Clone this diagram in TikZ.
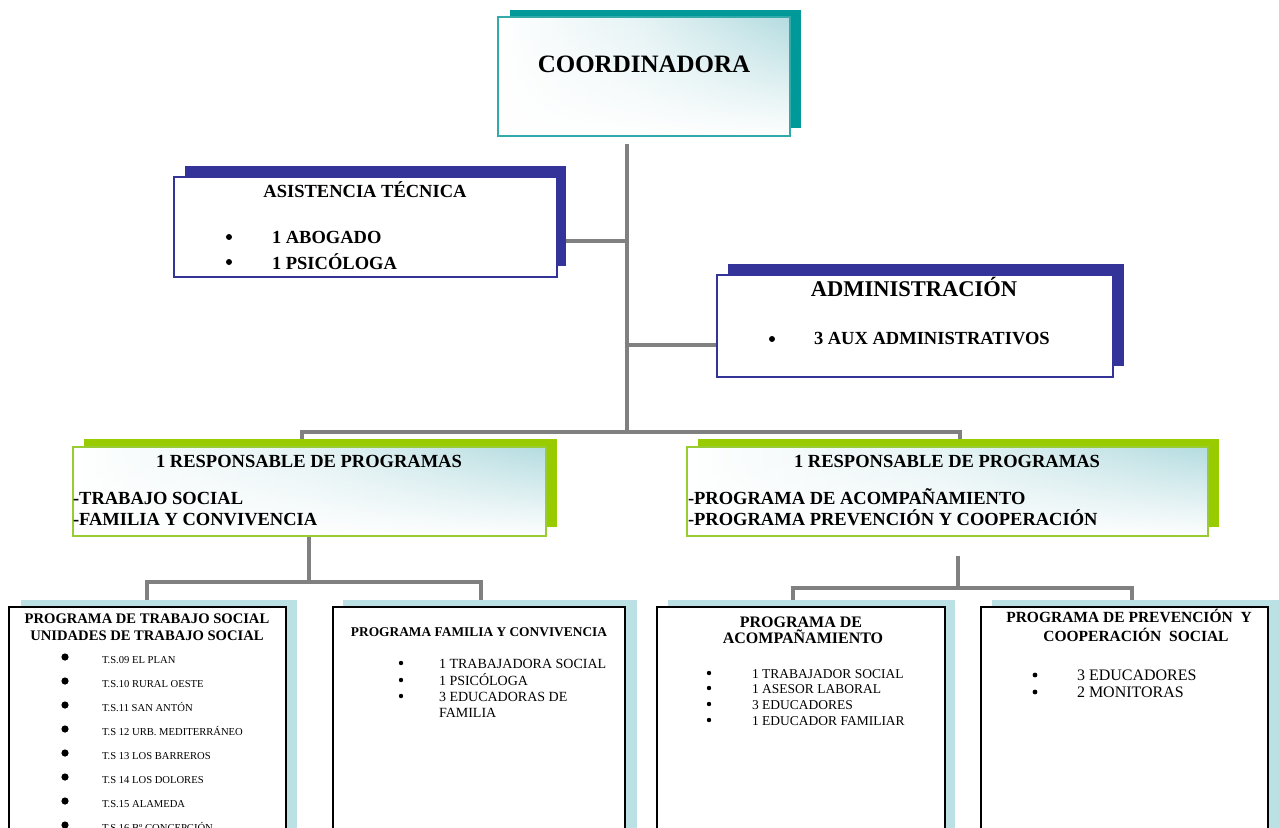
\documentclass[tikz,border=0pt]{standalone}
\usepackage{fontspec}
\setmainfont{Liberation Serif}
\usetikzlibrary{fadings}
\definecolor{tealsh}{HTML}{009999}
\definecolor{tealbd}{HTML}{33AAAA}
\definecolor{navy}{HTML}{333399}
\definecolor{lgreen}{HTML}{99CC00}
\definecolor{lgreenbd}{HTML}{99CC33}
\definecolor{pale}{HTML}{B4DCE0}
\definecolor{palesh}{HTML}{BBE1E4}
\definecolor{conngray}{HTML}{808080}
\newcommand\FSz[1]{\fontsize{#1}{#1}\selectfont}
\tikzset{
  conn/.style={draw=conngray, line width=4.5pt},
  frame/.style={inner sep=0pt, outer sep=0pt, anchor=north west},
  txt/.style={inner sep=0pt, outer sep=0pt, anchor=base},
  ltxt/.style={inner sep=0pt, outer sep=0pt, anchor=base west},
  dot/.style={fill=black},
}
\begin{document}
\begin{tikzpicture}[x=1pt, y=-1pt]
\useasboundingbox (0,0) rectangle (1279,827);
\clip (0,0) rectangle (1279,827);
\fill[white] (0,0) rectangle (1279,827);

% ---------- connectors ----------
\coordinate (j0) at (627,144);
\coordinate (jAsis) at (627,241);
\coordinate (jAdm) at (627,345);
\coordinate (jBus) at (627,432);
\coordinate (busL) at (302,432);
\coordinate (busR) at (960,432);
\coordinate (lTop) at (309,536);
\coordinate (lBar) at (309,582);
\coordinate (lBarL) at (147,582);
\coordinate (lBarR) at (481,582);
\coordinate (rTop) at (958,556);
\coordinate (rBar) at (958,588);
\coordinate (rBarL) at (793,588);
\coordinate (rBarR) at (1132,588);

\draw[conn] (j0) -- (jBus);
\draw[conn] (jAsis) -- (560,241);
\draw[conn] (jAdm) -- (718,345);
\draw[conn] (302,448) -- (busL) -- (busR) -- (960,448);
\draw[conn] (lTop) -- (lBar);
\draw[conn] (147,602) -- (lBarL) -- (lBarR) -- (481,602);
\draw[conn] (rTop) -- (rBar);
\draw[conn] (793,602) -- (rBarL) -- (rBarR) -- (1132,602);

% ---------- COORDINADORA ----------
\fill[tealsh] (510,10) rectangle (801,128);
\shade[left color=white, right color=pale, middle color=pale!35] (498,17) rectangle (790,136);
\fill[white, path fading=north] (498,17) rectangle (790,136);
\node[frame, draw=tealbd, line width=1.6pt, minimum width=292pt, minimum height=119pt] (coord) at (498,17) {};
\node[txt, font=\bfseries\FSz{25}] (tCoord) at (644,72) {COORDINADORA};

% ---------- ASISTENCIA TECNICA ----------
\fill[navy] (185,166) rectangle (566,266);
\node[frame, fill=white, draw=navy, line width=1.4pt, minimum width=383pt, minimum height=100pt] (asis) at (174,177) {};
\node[txt, font=\bfseries\FSz{18.5}] (tAsis) at (365,197) {ASISTENCIA TÉCNICA};
\fill[dot] (229,237) circle (3pt);
\fill[dot] (229,262) circle (3pt);
\node[ltxt, font=\bfseries\FSz{18.5}] (tAbo) at (272,243) {1 ABOGADO};
\node[ltxt, font=\bfseries\FSz{18.5}] (tPsi) at (272,269) {1 PSICÓLOGA};

% ---------- ADMINISTRACION ----------
\fill[navy] (728,264) rectangle (1124,366);
\node[frame, fill=white, draw=navy, line width=1.4pt, minimum width=396pt, minimum height=102pt] (adm) at (717,275) {};
\node[txt, font=\bfseries\FSz{22.5}] (tAdm) at (914,296) {ADMINISTRACIÓN};
\fill[dot] (772,339) circle (3pt);
\node[ltxt, font=\bfseries\FSz{18.5}] (tAux) at (814,344) {3 AUX ADMINISTRATIVOS};

% ---------- RESPONSABLE izquierda ----------
\fill[lgreen] (84,439) rectangle (557,527);
\shade[left color=white, right color=pale, middle color=pale!35] (73,447) rectangle (546,536);
\fill[white, path fading=north] (73,447) rectangle (546,536);
\node[frame, draw=lgreenbd, line width=1.6pt, minimum width=473pt, minimum height=89pt] (resL) at (73,447) {};
\node[txt, font=\bfseries\FSz{18.5}] (tResL) at (309,467) {1 RESPONSABLE DE PROGRAMAS};
\node[ltxt, font=\bfseries\FSz{18.5}] (tResL1) at (73,504) {-TRABAJO SOCIAL};
\node[ltxt, font=\bfseries\FSz{18.5}] (tResL2) at (73,525) {-FAMILIA Y CONVIVENCIA};

% ---------- RESPONSABLE derecha ----------
\fill[lgreen] (698,439) rectangle (1219,527);
\shade[left color=white, right color=pale, middle color=pale!35] (687,447) rectangle (1208,536);
\fill[white, path fading=north] (687,447) rectangle (1208,536);
\node[frame, draw=lgreenbd, line width=1.6pt, minimum width=521pt, minimum height=89pt] (resR) at (687,447) {};
\node[txt, font=\bfseries\FSz{18.5}] (tResR) at (947,467) {1 RESPONSABLE DE PROGRAMAS};
\node[ltxt, font=\bfseries\FSz{18.5}] (tResR1) at (688,504) {-PROGRAMA DE ACOMPAÑAMIENTO};
\node[ltxt, font=\bfseries\FSz{18.5}] (tResR2) at (688,525) {-PROGRAMA PREVENCIÓN Y COOPERACIÓN};

% ---------- bottom boxes ----------
% 1 trabajo social
\fill[palesh] (21,600) rectangle (297,840);
\node[frame, fill=white, draw=black, line width=1.8pt, minimum width=277pt, minimum height=240pt] (bTS) at (9,607) {};
\node[txt, font=\bfseries\FSz{14.6}] (tTS1) at (147,623) {PROGRAMA DE TRABAJO SOCIAL};
\node[txt, font=\bfseries\FSz{14.6}] (tTS2) at (147,640) {UNIDADES DE TRABAJO SOCIAL};
\foreach \i/\t in {0/{T.S.09 EL PLAN},1/{T.S.10 RURAL OESTE},2/{T.S.11 SAN ANTÓN},3/{T.S 12 URB. MEDITERRÁNEO},4/{T.S 13 LOS BARREROS},5/{T.S 14 LOS DOLORES},6/{T.S.15 ALAMEDA},7/{T.S.16 Bº CONCEPCIÓN}}{
  \fill[dot] (65,{657+24*\i}) circle (3.6pt);
  \node[ltxt, font=\FSz{10.6}] (tsi\i) at (102,{663+24*\i}) {\t};
}

% 2 familia y convivencia
\fill[palesh] (343,600) rectangle (637,840);
\node[frame, fill=white, draw=black, line width=1.8pt, minimum width=292pt, minimum height=240pt] (bFam) at (333,607) {};
\node[txt, font=\bfseries\FSz{13.4}] (tFam) at (479,636) {PROGRAMA FAMILIA Y CONVIVENCIA};
\foreach \i/\y in {0/668,1/685,2/701}{ \fill[dot] (401,{\y-5}) circle (2.2pt); }
\node[ltxt, font=\FSz{14}] (tF1) at (439,668) {1 TRABAJADORA SOCIAL};
\node[ltxt, font=\FSz{14}] (tF2) at (439,685) {1 PSICÓLOGA};
\node[ltxt, font=\FSz{14}] (tF3) at (439,701) {3 EDUCADORAS DE};
\node[ltxt, font=\FSz{14}] (tF4) at (439,717) {FAMILIA};

% 3 acompanamiento
\fill[palesh] (668,600) rectangle (955,840);
\node[frame, fill=white, draw=black, line width=1.8pt, minimum width=288pt, minimum height=240pt] (bAco) at (657,607) {};
\node[txt, font=\bfseries\FSz{16}] (tAco1) at (801,627) {PROGRAMA DE};
\node[txt, font=\bfseries\FSz{16}] (tAco2) at (803,643) {ACOMPAÑAMIENTO};
\foreach \y in {678,693,709,725}{ \fill[dot] (709,{\y-5}) circle (2.2pt); }
\node[ltxt, font=\FSz{13.5}] (tA1) at (752,678) {1 TRABAJADOR SOCIAL};
\node[ltxt, font=\FSz{13.5}] (tA2) at (752,693) {1 ASESOR LABORAL};
\node[ltxt, font=\FSz{13.5}] (tA3) at (752,709) {3 EDUCADORES};
\node[ltxt, font=\FSz{13.5}] (tA4) at (752,725) {1 EDUCADOR FAMILIAR};

% 4 prevencion
\fill[palesh] (992,600) rectangle (1279,840);
\node[frame, fill=white, draw=black, line width=1.8pt, minimum width=287pt, minimum height=240pt] (bPre) at (981,607) {};
\node[txt, font=\bfseries\FSz{15.5}] (tPre1) at (1129,622) {PROGRAMA DE PREVENCIÓN\ \ Y};
\node[txt, font=\bfseries\FSz{15.5}] (tPre2) at (1136,641) {COOPERACIÓN\ \ SOCIAL};
\foreach \y in {680,697}{ \fill[dot] (1035,{\y-5}) circle (2.4pt); }
\node[ltxt, font=\FSz{16}] (tP1) at (1077,680) {3 EDUCADORES};
\node[ltxt, font=\FSz{16}] (tP2) at (1077,697) {2 MONITORAS};
\end{tikzpicture}
\end{document}
